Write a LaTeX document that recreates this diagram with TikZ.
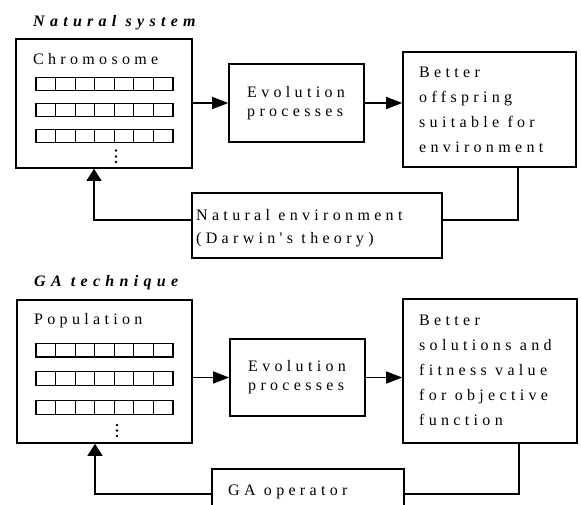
\documentclass[tikz,border=0pt]{standalone}
\usepackage{fontspec}
\setmainfont{Liberation Serif}
\newfontfamily\spfont[LetterSpace=27]{Liberation Serif}
\newfontfamily\ttlfont[LetterSpace=33]{Liberation Serif}
\usetikzlibrary{arrows.meta,calc}
\begin{document}
\begin{tikzpicture}[x=1pt,y=-1pt,
 box/.style={draw,line width=1.6pt,inner sep=0pt},
 ttl/.style={anchor=base west,inner sep=0pt,font=\ttlfont\bfseries\itshape\fontsize{16}{19}\selectfont},
 txt/.style={anchor=base west,inner sep=0pt,align=left,font=\spfont\fontsize{16}{#1}\selectfont},
 txt/.default=25,
 cell/.style={draw,line width=1.2pt},
 conn/.style={line width=1.3pt},
 harr/.style={conn,-{Triangle[length=16pt,width=12pt]}},
 varr/.style={conn,-{Triangle[length=12pt,width=15pt]}}]
\clip (0,0) rectangle (581,504);
% ---------- Natural system ----------
\node[ttl] (t1) at (33,26) {Natural system};
\node[box,minimum width=176,minimum height=129] (chrom) at (104,103.5) {};
\node[txt] (chromlbl) at (33,64) {Chromosome};
\foreach \y in {77.3,103.3,129.3}
  \foreach \i in {0,...,6}
    \draw[cell] ({36+\i*19.57},\y) rectangle ++(19.57,13.4);
\foreach \y in {150.5,156.5,162} \fill (116,\y) circle (1.4);
\node[box,minimum width=135,minimum height=78] (evo1) at (296.5,103) {};
% anchor = baseline of the last line
\node[txt=19] (evo1t) at (247,116) {Evolution\\processes};
\node[box,minimum width=173,minimum height=115] (better1) at (489.5,109.5) {};
\node[txt=25] (better1t) at (419,152) {Better\\offspring\\suitable for\\environment};
\node[box,minimum width=250,minimum height=65] (natenv) at (317,225.5) {};
\node[txt=23] (natenvt) at (196,243) {Natural environment\\(Darwin's theory)};
\draw[harr] (chrom.east |- evo1.west) -- (evo1.west);
\draw[harr] (evo1.east) -- (evo1.east -| better1.west);
\coordinate (r1) at (518,220);
\coordinate (l1) at (94,220);
\draw[conn] (better1.south -| r1) -- (r1) -- (r1 -| natenv.east);
\draw[varr] (natenv.west |- l1) -- (l1) -- (l1 |- chrom.south);
% ---------- GA technique ----------
\node[ttl] (t2) at (34,286) {GA technique};
\node[box,minimum width=175,minimum height=143] (pop) at (104.5,371.5) {};
\node[txt] (poplbl) at (34,324) {Population};
\foreach \y in {343.3,371.7,400.7}
  \foreach \i in {0,...,6}
    \draw[cell] ({36+\i*19.57},\y) rectangle ++(19.57,13.6);
\foreach \y in {425,430.5,436} \fill (117,\y) circle (1.4);
\node[box,minimum width=135,minimum height=77] (evo2) at (297.5,377.5) {};
\node[txt=19] (evo2t) at (248,390.7) {Evolution\\processes};
\node[box,minimum width=174,minimum height=144] (better2) at (490,371) {};
\node[txt=25] (better2t) at (419,425) {Better\\solutions and\\fitness value\\for objective\\function};
\node[box,minimum width=192,minimum height=48] (gaop) at (308,493) {};
\node[txt] (gaopt) at (228,495) {GA operator};
\draw[harr] (pop.east |- evo2.west) -- (evo2.west);
\draw[harr] (evo2.east) -- (evo2.east -| better2.west);
\coordinate (r2) at (519,494);
\coordinate (l2) at (95,494);
\draw[conn] (better2.south -| r2) -- (r2) -- (r2 -| gaop.east);
\draw[varr] (gaop.west |- l2) -- (l2) -- (l2 |- pop.south);
\end{tikzpicture}
\end{document}
